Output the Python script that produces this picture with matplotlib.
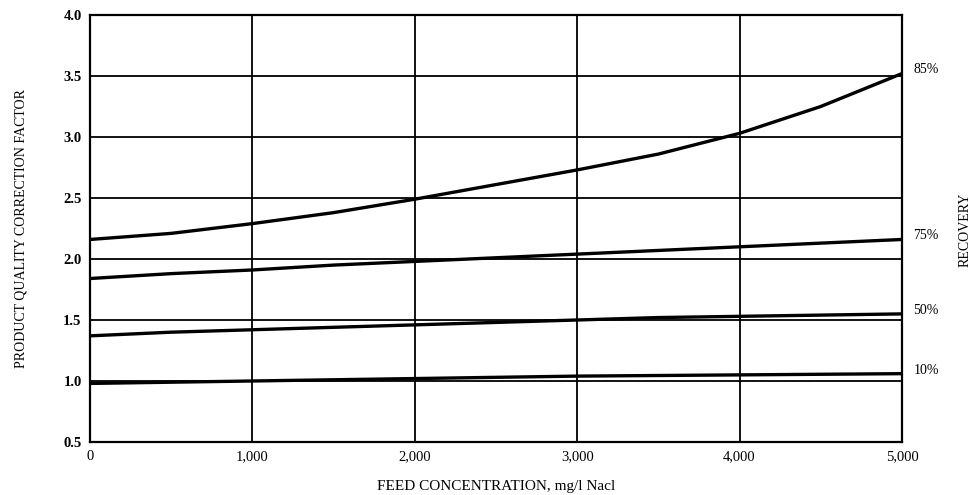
import numpy as np
import matplotlib.pyplot as plt

plt.rcParams['font.family'] = ['Liberation Serif', 'DejaVu Serif']

# feed concentration, mg/l NaCl
conc = [0, 500, 1000, 1500, 2000, 2500, 3000, 3500, 4000, 4500, 5000]

# correction factor per recovery
rec_85 = [2.16, 2.21, 2.29, 2.38, 2.49, 2.61, 2.73, 2.86, 3.03, 3.25, 3.52]
rec_75 = [1.84, 1.88, 1.91, 1.95, 1.98, 2.01, 2.04, 2.07, 2.10, 2.13, 2.16]
rec_50 = [1.37, 1.40, 1.42, 1.44, 1.46, 1.48, 1.50, 1.52, 1.53, 1.54, 1.55]
rec_10 = [0.98, 0.99, 1.00, 1.01, 1.02, 1.03, 1.04, 1.045, 1.05, 1.055, 1.06]

curves = [rec_85, rec_75, rec_50, rec_10]
labels = ['85%', '75%', '50%', '10%']

x_ticks = [0, 1000, 2000, 3000, 4000, 5000]
x_ticklabels = ['0', '1,000', '2,000', '3,000', '4,000', '5,000']
y_ticks = [0.5, 1.0, 1.5, 2.0, 2.5, 3.0, 3.5, 4.0]

fig = plt.figure(figsize=(9.79, 4.95), dpi=100)
ax = fig.add_axes([0.0919, 0.1071, 0.8294, 0.8626])

for y, lab in zip(curves, labels):
    ax.plot(conc, y, color='black', lw=2.4, solid_capstyle='butt')
    ax.text(5000 + 70, y[-1] + 0.03, lab, fontsize=10, va='center', ha='left')

ax.set_xlim(0, 5000)
ax.set_ylim(0.5, 4.0)
ax.set_xticks(x_ticks)
ax.set_xticklabels(x_ticklabels)
ax.set_yticks(y_ticks)
ax.set_yticklabels(['%.1f' % v for v in y_ticks])
ax.tick_params(length=0, labelsize=10.5, pad=6)
for t in ax.get_yticklabels():
    t.set_fontweight('bold')

ax.grid(True, color='black', lw=1.3)
ax.set_axisbelow(True)
for s in ax.spines.values():
    s.set_linewidth(1.6)

ax.set_xlabel('FEED CONCENTRATION, mg/l Nacl', fontsize=11, labelpad=12)
ax.set_ylabel('PRODUCT QUALITY CORRECTION FACTOR', fontsize=10, labelpad=26)
fig.text(0.986, 0.535, 'RECOVERY', rotation=90, fontsize=10, ha='center', va='center')

plt.savefig('out.png', dpi=100)
